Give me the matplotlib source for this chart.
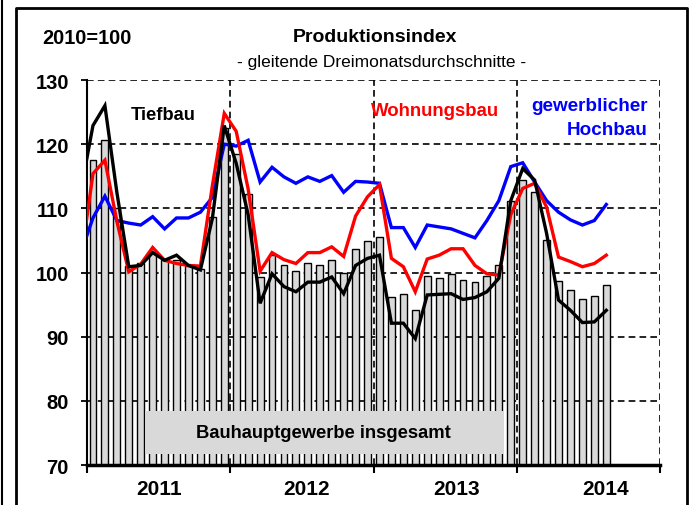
import numpy as np
import matplotlib
matplotlib.use("Agg")
import matplotlib.pyplot as plt
from matplotlib.patches import Rectangle
from matplotlib.lines import Line2D
import matplotlib.transforms as mtransforms

plt.rcParams['font.family'] = ['Liberation Sans', 'DejaVu Sans']

# monthly values, Jan 2011 .. Aug 2014 (lines start with Dec 2010)
tiefbau = [112.9, 122.9, 126.0, 112.5, 100.9, 101.1, 103.1, 101.9, 102.7, 101.1, 100.4, 108.4, 122.9,
           117.0, 109.0, 95.2, 99.8, 97.8, 97.0, 98.5, 98.5, 99.3, 96.7, 101.1, 102.2,
           102.7, 92.1, 92.1, 89.7, 96.5, 96.6, 96.7, 95.8, 96.1, 97.0, 99.1, 111.2,
           116.2, 114.4, 106.1, 95.7, 94.1, 92.2, 92.3, 94.1]
wohnungsbau = [102.0, 115.4, 117.5, 108.0, 100.1, 101.3, 103.9, 101.9, 101.4, 101.1, 101.0, 113.5, 124.8,
               122.0, 113.0, 100.2, 103.1, 102.0, 101.4, 103.1, 103.1, 104.0, 102.5, 108.8, 111.8,
               113.7, 102.2, 100.9, 97.0, 102.1, 102.7, 103.7, 103.7, 101.1, 99.8, 99.6, 109.0,
               113.1, 113.9, 110.2, 102.4, 101.7, 100.9, 101.4, 102.7]
hochbau = [103.1, 108.5, 111.9, 108.1, 107.7, 107.4, 108.7, 106.8, 108.5, 108.5, 109.4, 111.7, 120.0,
           119.7, 120.6, 114.1, 116.4, 114.9, 113.9, 114.9, 114.2, 115.1, 112.5, 114.2, 114.1,
           113.9, 107.0, 107.0, 103.9, 107.4, 107.1, 106.8, 106.1, 105.4, 108.1, 111.2, 116.5,
           117.1, 114.1, 111.2, 109.4, 108.2, 107.4, 108.1, 110.6]
insgesamt = [117.5, 120.6, 110.0, 101.0, 101.5, 103.0, 102.0, 102.0, 101.0, 100.5, 108.7, 122.5,
             118.5, 112.3, 99.3, 102.8, 101.2, 100.3, 101.5, 101.2, 101.9, 99.9, 103.7, 104.9,
             105.6, 96.2, 96.6, 94.1, 99.4, 99.1, 99.7, 98.8, 98.5, 99.4, 101.2, 111.2,
             114.4, 112.5, 105.0, 98.7, 97.2, 95.9, 96.3, 98.1]
years = ['2011', '2012', '2013', '2014']
year_pos = [5.55, 17.9, 30.5, 42.9]

fig = plt.figure(figsize=(6.91, 5.06), dpi=100)
ax = fig.add_axes([87 / 691, 1 - 466 / 506, 573 / 691, 385 / 506])

bar_x = np.arange(len(insgesamt))
line_x = np.arange(len(tiefbau)) - 1

# grid
for v in range(80, 131, 10):
    ax.axhline(v, color='black', lw=1.2, ls=(0, (4, 2.5)), zorder=1)
for xv in [11.5, 23.5, 35.5, 47.5]:
    ax.axvline(xv, color='black', lw=1.2, ls=(0, (4, 2.5)), zorder=1)

ax.bar(bar_x, insgesamt, width=0.58, color='#d9d9d9', edgecolor='black', linewidth=1.0, zorder=2)

ax.add_patch(Rectangle((4.37, 71.7), 30.08, 6.7, facecolor='#d9d9d9', edgecolor='none', zorder=3))
ax.text(19.3, 75.1, 'Bauhauptgewerbe insgesamt', ha='center', va='center',
        fontsize=13.2, fontweight='bold', zorder=4)

ax.plot(line_x, hochbau, color='#0000ff', lw=2.4, zorder=4, solid_joinstyle='miter')
ax.plot(line_x, wohnungsbau, color='#ff0000', lw=2.4, zorder=5, solid_joinstyle='miter')
ax.plot(line_x, tiefbau, color='black', lw=2.4, zorder=6, solid_joinstyle='miter')

ax.set_xlim(-0.5, 47.5)
ax.set_ylim(70, 130)
ax.set_yticks(range(70, 131, 10))
ax.set_xticks([-0.5, 11.5, 23.5, 35.5, 47.5])
ax.set_xticklabels([])
ax.tick_params(axis='y', direction='out', length=4, width=1.3, pad=9, labelsize=14.5)
ax.tick_params(axis='x', direction='out', length=6, width=1.5)
for lab in ax.get_yticklabels():
    lab.set_fontweight('bold')
for s in ['top', 'right']:
    ax.spines[s].set_visible(False)
ax.spines['left'].set_linewidth(1.5)
ax.spines['bottom'].set_linewidth(2.5)
ax.spines['bottom'].set_zorder(7)

trans = mtransforms.blended_transform_factory(ax.transData, ax.transAxes)
for yr, xp in zip(years, year_pos):
    ax.text(xp, -0.06, yr, transform=trans, ha='center', va='center',
            fontsize=15, fontweight='bold', clip_on=False)

ax.text(3.2, 124.7, 'Tiefbau', color='black', fontsize=13.2, fontweight='bold', va='center', ha='left')
ax.text(23.3, 125.2, 'Wohnungsbau', color='#ff0000', fontsize=13.4, fontweight='bold', va='center', ha='left')
ax.text(46.5, 126.1, 'gewerblicher', color='#0000ff', fontsize=13.6, fontweight='bold', va='center', ha='right')
ax.text(46.5, 122.3, 'Hochbau', color='#0000ff', fontsize=13.6, fontweight='bold', va='center', ha='right')

fig.text(42 / 691, 1 - 39 / 506, '2010=100', fontsize=14.3, fontweight='bold', ha='left', va='center')
fig.text(375 / 691, 1 - 38 / 506, 'Produktionsindex', fontsize=14, fontweight='bold', ha='center', va='center')
fig.text(382 / 691, 1 - 62 / 506, '- gleitende Dreimonatsdurchschnitte -', fontsize=12.5, ha='center', va='center')

# frame
fig.add_artist(Line2D([1.5 / 691, 1.5 / 691], [0, 1], color='black', lw=1.5))
fig.add_artist(Line2D([16 / 691, 16 / 691, 687 / 691, 687 / 691], [0, 1 - 9 / 506, 1 - 9 / 506, 0],
                      color='black', lw=2))

fig.savefig('out.png', dpi=100)
